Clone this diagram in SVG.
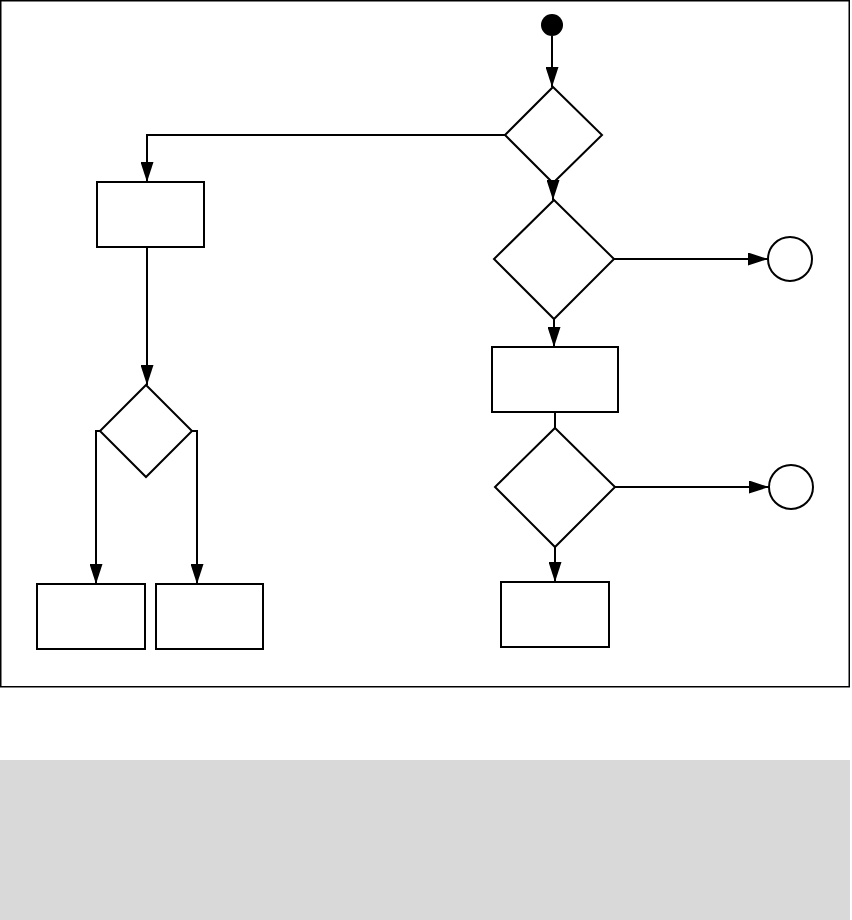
<svg xmlns="http://www.w3.org/2000/svg" width="852" height="920" viewBox="0 0 852 920">
<style>
.n{fill:#fff;stroke:#000;stroke-width:2}
.c{fill:none;stroke:#000;stroke-width:2}
</style>
<defs>
<marker id="ah" markerUnits="userSpaceOnUse" markerWidth="20" markerHeight="13" refX="20" refY="6.5" orient="auto">
<path d="M0,0 L20,6.5 L0,13 z" fill="#000"/>
</marker>
</defs>
<rect x="0" y="0" width="852" height="920" fill="#fff"/>
<rect x="0.75" y="0.75" width="848.5" height="686" fill="none" stroke="#000" stroke-width="1.5"/>
<rect x="0" y="760" width="850" height="160" fill="#d9d9d9"/>
<g id="start"><circle cx="552" cy="25" r="11" fill="#000"/></g>
<g id="d1"><polygon class="n" points="553,87 602,135 553,183 505,135"/></g>
<g id="b1"><rect class="n" x="97" y="182" width="107" height="65"/></g>
<g id="d2"><polygon class="n" points="554,200 614,259 554,319 494,259"/></g>
<g id="e1"><circle class="n" cx="790" cy="259" r="22"/></g>
<g id="b2"><rect class="n" x="492" y="347" width="126" height="65"/></g>
<g id="d3"><polygon class="n" points="555,428 615,487 555,547 495,487"/></g>
<g id="e2"><circle class="n" cx="791" cy="487" r="22"/></g>
<g id="b3"><rect class="n" x="501" y="582" width="108" height="65"/></g>
<g id="d4"><polygon class="n" points="146,385 192,431 146,477 100,431"/></g>
<g id="b4"><rect class="n" x="37" y="584" width="108" height="65"/></g>
<g id="b5"><rect class="n" x="156" y="584" width="107" height="65"/></g>
<g id="connectors">
<path class="c" d="M552,36 V87" marker-end="url(#ah)"/>
<path class="c" d="M505,135 H147 V182" marker-end="url(#ah)"/>
<path class="c" d="M553,183 V200" marker-end="url(#ah)"/>
<path class="c" d="M614,259 H768" marker-end="url(#ah)"/>
<path class="c" d="M554,319 V347" marker-end="url(#ah)"/>
<path class="c" d="M555,412 V428"/>
<path class="c" d="M615,487 H769" marker-end="url(#ah)"/>
<path class="c" d="M555,547 V582" marker-end="url(#ah)"/>
<path class="c" d="M147,247 V385" marker-end="url(#ah)"/>
<path class="c" d="M100,431 H96 V584" marker-end="url(#ah)"/>
<path class="c" d="M192,431 H197 V584" marker-end="url(#ah)"/>
</g>
</svg>
